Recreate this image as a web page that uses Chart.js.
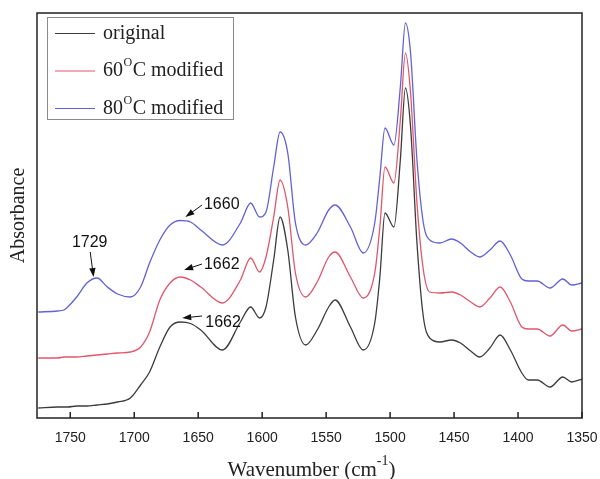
<!DOCTYPE html>
<html>
<head>
<meta charset="utf-8">
<script src="https://cdn.jsdelivr.net/npm/chart.js@4.4.1/dist/chart.umd.min.js"></script>
<style>
  body { margin: 0; background: #fff; }
  #wrap { width: 600px; height: 479px; position: relative; }
</style>
</head>
<body>
<div id="wrap"><canvas id="grafico"></canvas></div>
<script>
// FTIR spectra (absorbance in arbitrary units, curves stacked)
const wavenumbers = [1775, 1760, 1755, 1752, 1745, 1737, 1729, 1721, 1713, 1703,
                     1695, 1688, 1680, 1672, 1664, 1656, 1648, 1631, 1617, 1609,
                     1602, 1597, 1591, 1586, 1580, 1574, 1566, 1557, 1548, 1543,
                     1531, 1521, 1512, 1508, 1504, 1497, 1492, 1488, 1484, 1479,
                     1474, 1469, 1461, 1452, 1445, 1437, 1430, 1422, 1414, 1406,
                     1397, 1392, 1385, 1375, 1365, 1358, 1350];

const originalAbs = [10, 11, 11, 11, 12, 12, 13, 14, 16, 20,
                     33, 46, 71, 91, 96, 94.5, 88, 68, 96, 111,
                     100, 111, 158, 201, 168, 101, 73, 88, 111, 118,
                     91, 68, 95, 141, 205, 191, 258, 330, 291, 175,
                     101, 80, 76, 78, 75, 67, 61, 70, 83, 68,
                     45, 38, 38, 31, 41, 36, 39];

const mod60Abs = [60, 60, 61, 61, 61, 62, 63, 64, 65, 66,
                  71, 86, 118, 135, 141, 138, 131, 115, 138, 160,
                  146, 161, 201, 238, 211, 145, 121, 136, 161, 166,
                  141, 120, 145, 191, 251, 235, 298, 365, 325, 215,
                  148, 126, 125, 126, 123, 116, 111, 120, 131, 116,
                  91, 89, 89, 82, 93, 87, 89];

const mod80Abs = [106, 107, 108, 111, 121, 135, 140, 131, 124, 121,
                  131, 155, 178, 193, 197.5, 196, 188, 173, 195, 215,
                  201, 206, 251, 286, 265, 195, 173, 185, 208, 213,
                  191, 165, 195, 241, 290, 273, 331, 395, 365, 258,
                  195, 178, 175, 179, 175, 166, 161, 168, 177, 163,
                  139, 137, 137, 130, 139, 133, 135];

const seriesLabels = ['original', '60°C modified', '80°C modified'];
const xTickValues = [1750, 1700, 1650, 1600, 1550, 1500, 1450, 1400, 1350];

// peak labels: text, text anchor, arrow tail, arrow tip (wavenumber, absorbance)
const peakTexts = ['1729', '1660', '1662', '1662'];
const peakTextAt = [[1734.8, 175], [1645.5, 213], [1645.5, 153], [1644.5, 95]];
const peakArrowFrom = [[1734.4, 166], [1647, 213], [1647, 154], [1647, 102]];
const peakArrowTo = [[1731.8, 141], [1660, 201], [1661, 148], [1662.5, 100]];

const colores = ['#3c3c3c', '#e2566c', '#6262d8'];

function flecha(ctx, x1, y1, x2, y2) {
    const ang = Math.atan2(y2 - y1, x2 - x1);
    const c = Math.cos(ang), s = Math.sin(ang);
    const L = 9, W = 3.2;
    ctx.beginPath();
    ctx.moveTo(x1, y1);
    ctx.lineTo(x2 - L * 0.7 * c, y2 - L * 0.7 * s);
    ctx.stroke();
    ctx.beginPath();
    ctx.moveTo(x2, y2);
    ctx.lineTo(x2 - L * c + W * s, y2 - L * s - W * c);
    ctx.lineTo(x2 - L * c - W * s, y2 - L * s + W * c);
    ctx.closePath();
    ctx.fill();
}

const decoraciones = {
    id: 'decoraciones',
    afterDraw(chart) {
        const ctx = chart.ctx;
        const a = chart.chartArea;
        const x = chart.scales.x, y = chart.scales.y;
        ctx.save();

        // frame + inward ticks
        ctx.strokeStyle = '#222';
        ctx.lineWidth = 1.5;
        ctx.strokeRect(a.left, a.top, a.right - a.left, a.bottom - a.top);
        x.ticks.forEach(t => {
            const px = x.getPixelForValue(t.value);
            ctx.beginPath();
            ctx.moveTo(px, a.bottom);
            ctx.lineTo(px, a.bottom - 6);
            ctx.stroke();
        });

        // x title with superscript
        const base = 476;
        ctx.fillStyle = '#222';
        ctx.textAlign = 'left';
        ctx.textBaseline = 'alphabetic';
        ctx.font = '21px "Liberation Serif"';
        const t1 = 'Wavenumber (cm', t2 = ')';
        const w1 = ctx.measureText(t1).width, w2 = ctx.measureText(t2).width;
        ctx.font = '14px "Liberation Serif"';
        const ws = ctx.measureText('-1').width;
        let sx = (a.left + a.right) / 2 + 2 - (w1 + ws + w2) / 2;
        ctx.font = '21px "Liberation Serif"';
        ctx.fillText(t1, sx, base);
        sx += w1;
        ctx.font = '14px "Liberation Serif"';
        ctx.fillText('-1', sx, base - 11);
        sx += ws;
        ctx.font = '21px "Liberation Serif"';
        ctx.fillText(t2, sx, base);

        // legend box
        const lx = a.left + 10, ly = a.top + 4;
        ctx.strokeStyle = '#8a8a8a';
        ctx.lineWidth = 1;
        ctx.strokeRect(lx + 0.5, ly + 0.5, 186, 102);
        chart.data.datasets.forEach((ds, i) => {
            const bl = ly + 21.5 + i * 37.5;
            ctx.strokeStyle = ds.borderColor;
            ctx.lineWidth = 1.2;
            ctx.beginPath();
            ctx.moveTo(lx + 8, bl - 5);
            ctx.lineTo(lx + 48, bl - 5);
            ctx.stroke();
            ctx.fillStyle = '#222';
            let tx = lx + 56;
            const partes = ds.label.split('°');
            ctx.font = '20px "Liberation Serif"';
            ctx.fillText(partes[0], tx, bl);
            tx += ctx.measureText(partes[0]).width;
            if (partes.length > 1) {
                ctx.font = '12px "Liberation Serif"';
                ctx.fillText('O', tx + 0.5, bl - 10);
                tx += ctx.measureText('O').width + 1;
                ctx.font = '20px "Liberation Serif"';
                ctx.fillText(partes[1], tx, bl);
            }
        });

        // peak annotations
        ctx.fillStyle = '#111';
        ctx.strokeStyle = '#111';
        ctx.lineWidth = 1;
        ctx.font = '16px "Liberation Sans"';
        ctx.textBaseline = 'middle';
        peakTexts.forEach((txt, i) => {
            ctx.textAlign = i === 0 ? 'center' : 'left';
            ctx.fillText(txt, x.getPixelForValue(peakTextAt[i][0]), y.getPixelForValue(peakTextAt[i][1]));
            flecha(ctx,
                x.getPixelForValue(peakArrowFrom[i][0]), y.getPixelForValue(peakArrowFrom[i][1]),
                x.getPixelForValue(peakArrowTo[i][0]), y.getPixelForValue(peakArrowTo[i][1]));
        });
        ctx.restore();
    }
};

function serie(vals) {
    return wavenumbers.map((w, i) => ({ x: w, y: vals[i] }));
}

const myChart = new Chart(document.getElementById('grafico'), {
    type: 'line',
    data: {
        datasets: [
            { label: seriesLabels[0], data: serie(originalAbs), borderColor: colores[0] },
            { label: seriesLabels[1], data: serie(mod60Abs), borderColor: colores[1] },
            { label: seriesLabels[2], data: serie(mod80Abs), borderColor: colores[2] }
        ]
    },
    options: {
        responsive: true,
        maintainAspectRatio: false,
        animation: false,
        layout: { padding: { top: 13, right: 18, left: 0, bottom: 0 } },
        elements: {
            point: { radius: 0 },
            line: { borderWidth: 1.3, cubicInterpolationMode: 'monotone', fill: false }
        },
        scales: {
            x: {
                type: 'linear',
                reverse: true,
                min: 1350,
                max: 1776,
                afterFit: s => { s.height = 61; s.paddingLeft = 0; s.paddingRight = 0; },
                afterBuildTicks: s => { s.ticks = xTickValues.map(v => ({ value: v })); },
                grid: { display: false, drawTicks: false },
                border: { display: false },
                ticks: {
                    padding: 12,
                    color: '#222',
                    maxRotation: 0,
                    callback: v => String(v),
                    font: { family: 'Liberation Sans', size: 14 }
                }
            },
            y: {
                min: 0,
                max: 405,
                afterFit: s => { s.width = 37; s.paddingTop = 0; s.paddingBottom = 0; },
                grid: { display: false, drawTicks: false },
                border: { display: false },
                ticks: { display: false },
                title: {
                    display: true,
                    text: 'Absorbance',
                    color: '#222',
                    padding: { top: 7, bottom: 0 },
                    font: { family: 'Liberation Serif', size: 20 }
                }
            }
        },
        plugins: {
            legend: { display: false },
            tooltip: { enabled: false }
        }
    },
    plugins: [decoraciones]
});
</script>
</body>
</html>
